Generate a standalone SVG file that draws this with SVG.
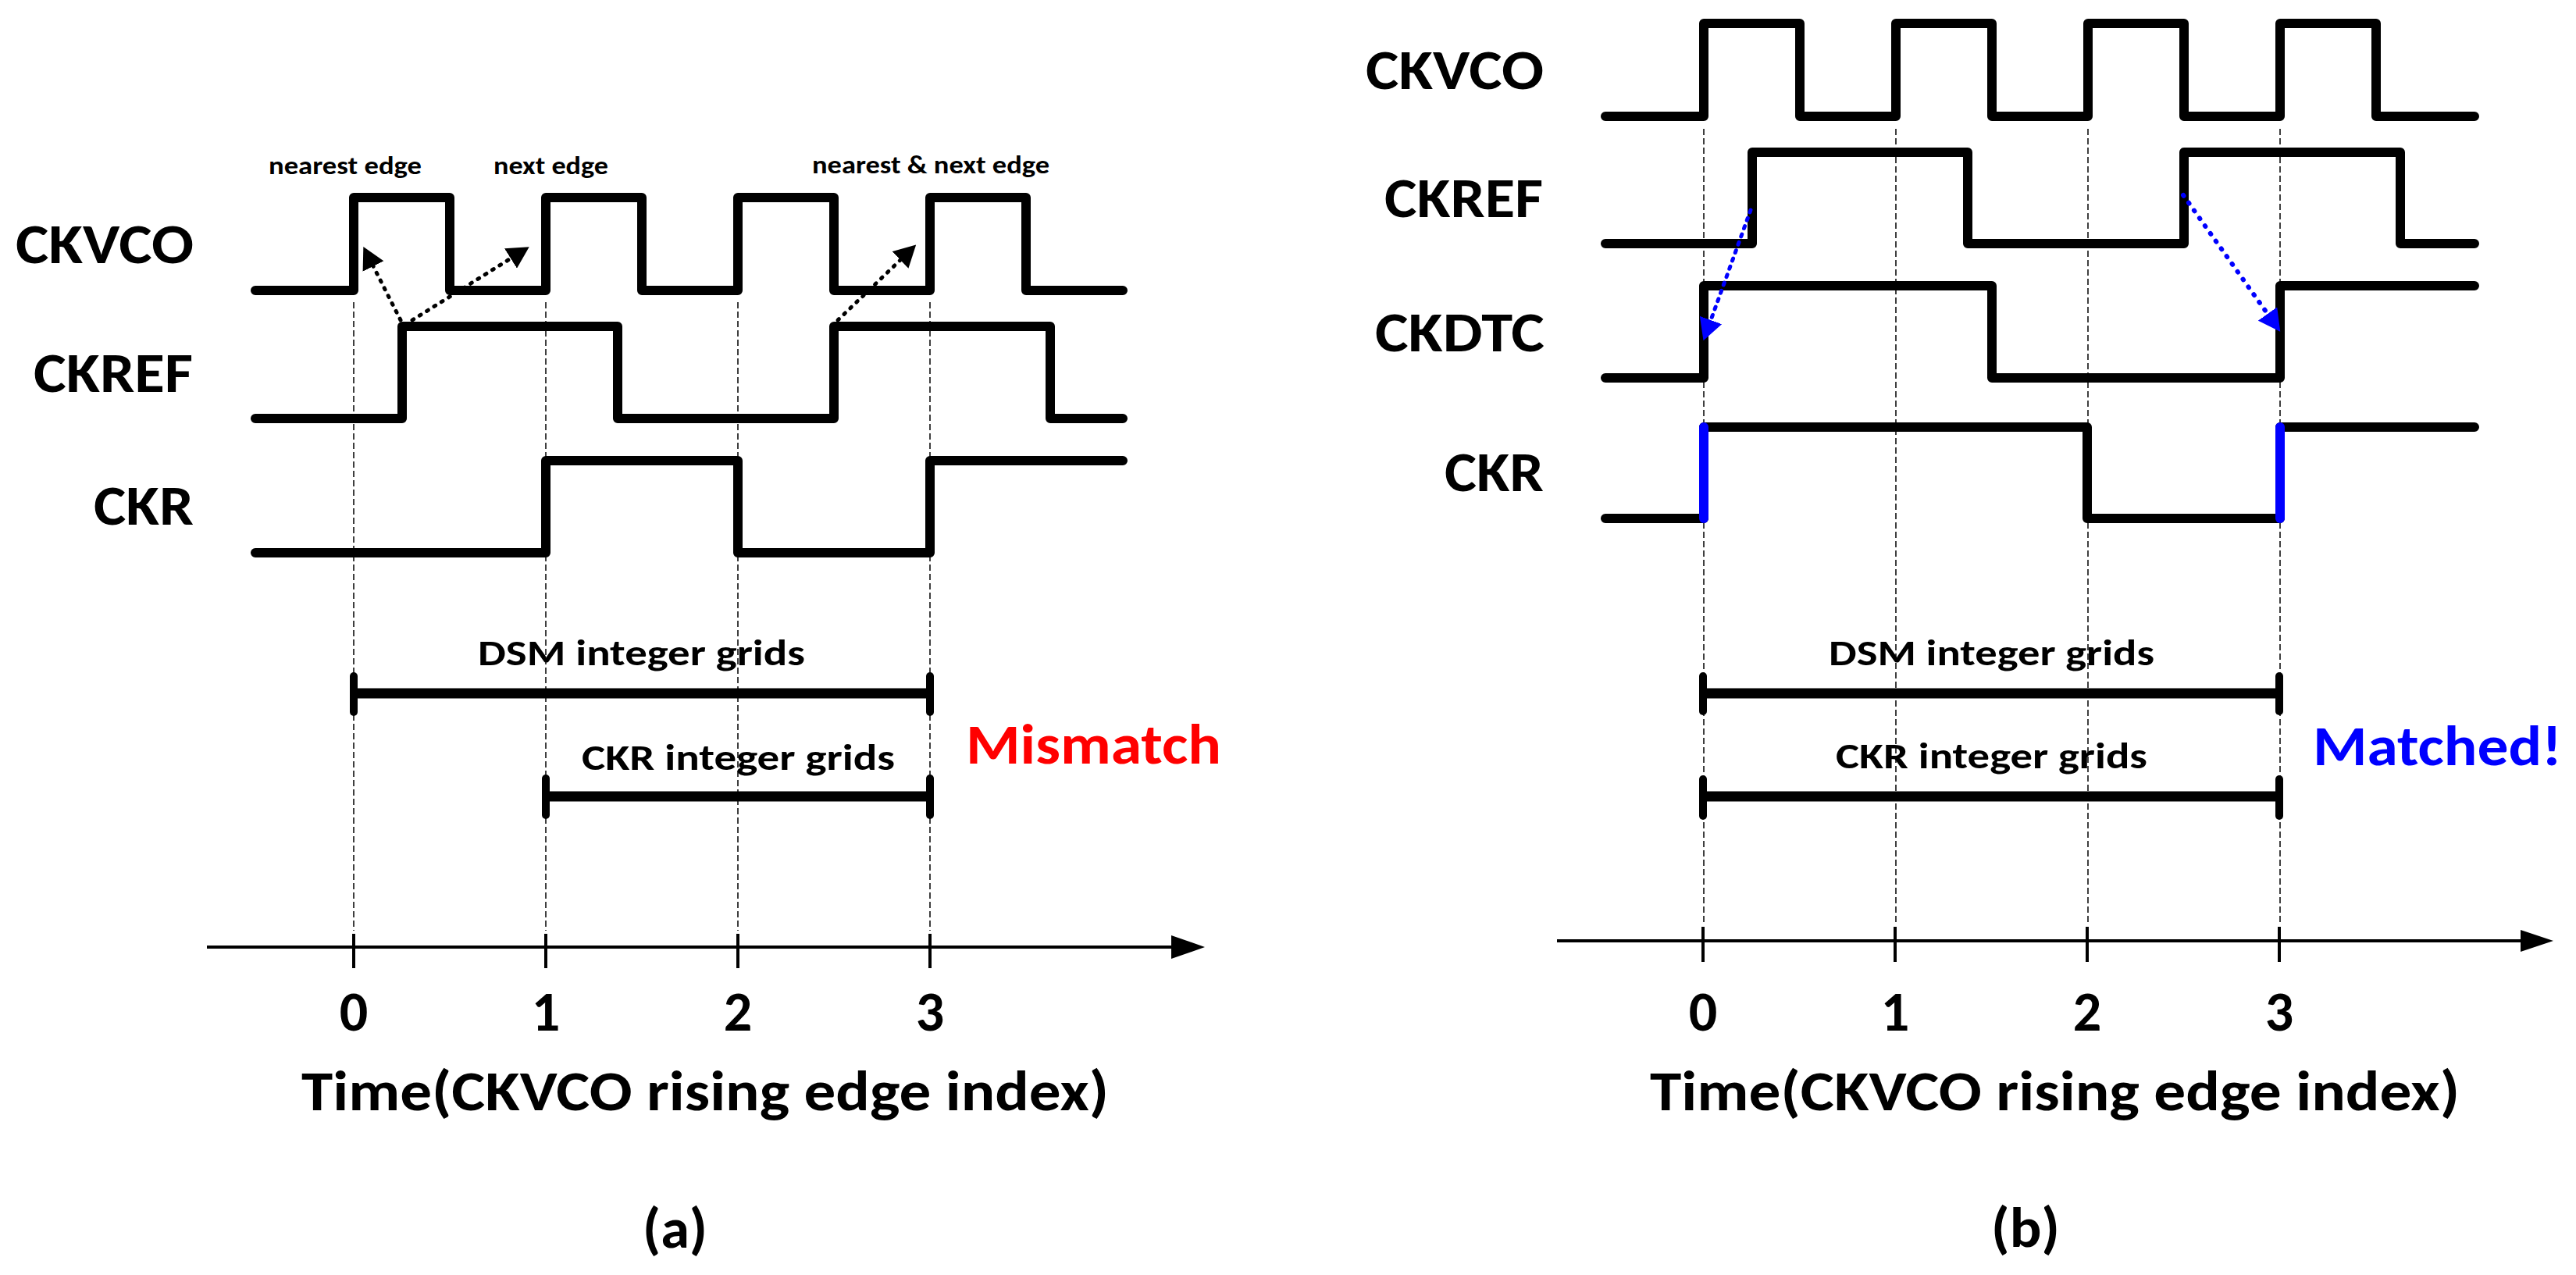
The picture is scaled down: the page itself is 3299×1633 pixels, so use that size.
<svg xmlns="http://www.w3.org/2000/svg" width="3299" height="1633" viewBox="0 0 3299 1633">
<style>
text{font-family:Calibri,Carlito,Lato,"Open Sans",sans-serif;font-weight:bold;fill:#000}
.big{font-size:72px}
.mid{font-size:46px}
.sm{font-size:33px}
.wave{fill:none;stroke:#000;stroke-width:12;stroke-linejoin:round;stroke-linecap:round}
.grid{fill:none;stroke:#000;stroke-width:1.5;stroke-dasharray:8 4}
.axis{fill:none;stroke:#000;stroke-width:4}
.bar{fill:none;stroke:#000;stroke-width:13}
.cap{fill:none;stroke:#000;stroke-width:10;stroke-linecap:round}
.dk{fill:none;stroke:#000;stroke-width:5;stroke-linecap:round;stroke-dasharray:2 9}
.db{fill:none;stroke:#0000FF;stroke-width:5;stroke-linecap:round;stroke-dasharray:3 8}
.dbr{fill:none;stroke:#0000FF;stroke-width:6;stroke-linecap:round;stroke-dasharray:1 11}
.blue{fill:none;stroke:#0000FF;stroke-width:12;stroke-linecap:round}
</style>
<defs>
<marker id="ahk" viewBox="0 0 28 30" refX="0" refY="15" markerWidth="28" markerHeight="30" markerUnits="userSpaceOnUse" orient="auto"><path d="M0,0 L28,15 L0,30 z" fill="#000"/></marker>
<marker id="ahb" viewBox="0 0 28 30" refX="0" refY="15" markerWidth="28" markerHeight="30" markerUnits="userSpaceOnUse" orient="auto"><path d="M0,0 L28,15 L0,30 z" fill="#0000FF"/></marker>
</defs>
<rect width="3299" height="1633" fill="#fff"/>

<!-- Panel (a) -->
<g id="a-grid">
<line class="grid" x1="453" y1="387" x2="453" y2="1192"/>
<line class="grid" x1="699" y1="387" x2="699" y2="1192"/>
<line class="grid" x1="945" y1="387" x2="945" y2="1192"/>
<line class="grid" x1="1191" y1="387" x2="1191" y2="1192"/>
</g>
<g id="a-ckvco">
<text class="big" x="20" y="337" textLength="228" lengthAdjust="spacingAndGlyphs">CKVCO</text>
<path class="wave" d="M327,372 H453 V253 H576 V372 H699 V253 H822 V372 H945 V253 H1068 V372 H1191 V253 H1314 V372 H1438"/>
</g>
<g id="a-ckref">
<text class="big" x="43" y="502" textLength="204" lengthAdjust="spacingAndGlyphs">CKREF</text>
<path class="wave" d="M327,536 H515 V418 H791 V536 H1068 V418 H1345 V536 H1438"/>
</g>
<g id="a-ckr">
<text class="big" x="120" y="672" textLength="128" lengthAdjust="spacingAndGlyphs">CKR</text>
<path class="wave" d="M327,708 H699 V590 H945 V708 H1191 V590 H1438"/>
</g>
<g id="a-notes">
<text class="sm" x="344" y="223" textLength="196" lengthAdjust="spacingAndGlyphs">nearest edge</text>
<text class="sm" x="632" y="223" textLength="147" lengthAdjust="spacingAndGlyphs">next edge</text>
<text class="sm" x="1040" y="222" textLength="304" lengthAdjust="spacingAndGlyphs">nearest &amp; next edge</text>
</g>
<g id="a-dsm">
<text class="mid" x="612" y="852" textLength="419" lengthAdjust="spacingAndGlyphs">DSM integer grids</text>
<line class="bar" x1="453" y1="888" x2="1191" y2="888"/>
<line class="cap" x1="453" y1="866" x2="453" y2="912"/>
<line class="cap" x1="1191" y1="866" x2="1191" y2="912"/>
</g>
<g id="a-ckrgrid">
<text class="mid" x="745" y="986" textLength="401" lengthAdjust="spacingAndGlyphs">CKR integer grids</text>
<line class="bar" x1="699" y1="1020" x2="1191" y2="1020"/>
<line class="cap" x1="699" y1="997" x2="699" y2="1044"/>
<line class="cap" x1="1191" y1="997" x2="1191" y2="1044"/>
</g>
<g id="a-result">
<text class="big" x="1237" y="978" textLength="327" lengthAdjust="spacingAndGlyphs" style="fill:#FF0000">Mismatch</text>
</g>
<g id="a-axis">
<line class="axis" x1="265" y1="1213" x2="1505" y2="1213"/>
<polygon points="1500,1198 1543,1213 1500,1228" fill="#000"/>
<line class="axis" x1="453" y1="1196" x2="453" y2="1240"/>
<line class="axis" x1="699" y1="1196" x2="699" y2="1240"/>
<line class="axis" x1="945" y1="1196" x2="945" y2="1240"/>
<line class="axis" x1="1191" y1="1196" x2="1191" y2="1240"/>
<text class="big" x="453" y="1320" text-anchor="middle">0</text>
<text class="big" x="699" y="1320" text-anchor="middle">1</text>
<text class="big" x="945" y="1320" text-anchor="middle">2</text>
<text class="big" x="1191" y="1320" text-anchor="middle">3</text>
<text class="big" x="386" y="1422" textLength="1034" lengthAdjust="spacingAndGlyphs">Time(CKVCO rising edge index)</text>
<text class="big" x="823" y="1598" textLength="83" lengthAdjust="spacingAndGlyphs">(a)</text>
</g>

<!-- Panel (b) -->
<g id="b-grid">
<line class="grid" x1="2182" y1="165" x2="2182" y2="1183"/>
<line class="grid" x1="2428" y1="165" x2="2428" y2="1183"/>
<line class="grid" x1="2674" y1="165" x2="2674" y2="1183"/>
<line class="grid" x1="2920" y1="165" x2="2920" y2="1183"/>
</g>
<g id="b-ckvco">
<text class="big" x="1749" y="114" textLength="228" lengthAdjust="spacingAndGlyphs">CKVCO</text>
<path class="wave" d="M2056,149 H2182 V30 H2305 V149 H2428 V30 H2551 V149 H2674 V30 H2797 V149 H2920 V30 H3043 V149 H3169"/>
</g>
<g id="b-ckref">
<text class="big" x="1773" y="278" textLength="203" lengthAdjust="spacingAndGlyphs">CKREF</text>
<path class="wave" d="M2056,312 H2244 V195 H2520 V312 H2797 V195 H3074 V312 H3169"/>
</g>
<g id="b-ckdtc">
<text class="big" x="1761" y="450" textLength="217" lengthAdjust="spacingAndGlyphs">CKDTC</text>
<path class="wave" d="M2056,484 H2182 V366 H2551 V484 H2920 V366 H3169"/>
</g>
<g id="b-ckr">
<text class="big" x="1850" y="629" textLength="127" lengthAdjust="spacingAndGlyphs">CKR</text>
<path class="wave" d="M2056,664 H2182 V547 H2673 V664 H2920 V547 H3169"/>
<line class="blue" x1="2182" y1="547" x2="2182" y2="664"/>
<line class="blue" x1="2920" y1="547" x2="2920" y2="664"/>
</g>
<g id="b-dsm">
<text class="mid" x="2342" y="852" textLength="417" lengthAdjust="spacingAndGlyphs">DSM integer grids</text>
<line class="bar" x1="2181" y1="888" x2="2919" y2="888"/>
<line class="cap" x1="2181" y1="866" x2="2181" y2="911"/>
<line class="cap" x1="2919" y1="866" x2="2919" y2="911"/>
</g>
<g id="b-ckrgrid">
<text class="mid" x="2351" y="984" textLength="399" lengthAdjust="spacingAndGlyphs">CKR integer grids</text>
<line class="bar" x1="2181" y1="1020" x2="2919" y2="1020"/>
<line class="cap" x1="2181" y1="998" x2="2181" y2="1045"/>
<line class="cap" x1="2919" y1="998" x2="2919" y2="1045"/>
</g>
<g id="b-result">
<text class="big" x="2962" y="980" textLength="319" lengthAdjust="spacingAndGlyphs" style="fill:#0000FF">Matched!</text>
</g>
<g id="b-axis">
<line class="axis" x1="1994" y1="1205" x2="3232" y2="1205"/>
<polygon points="3228,1191 3270,1205 3228,1219" fill="#000"/>
<line class="axis" x1="2181" y1="1187" x2="2181" y2="1232"/>
<line class="axis" x1="2427" y1="1187" x2="2427" y2="1232"/>
<line class="axis" x1="2673" y1="1187" x2="2673" y2="1232"/>
<line class="axis" x1="2919" y1="1187" x2="2919" y2="1232"/>
<text class="big" x="2181" y="1320" text-anchor="middle">0</text>
<text class="big" x="2427" y="1320" text-anchor="middle">1</text>
<text class="big" x="2673" y="1320" text-anchor="middle">2</text>
<text class="big" x="2919" y="1320" text-anchor="middle">3</text>
<text class="big" x="2113" y="1422" textLength="1037" lengthAdjust="spacingAndGlyphs">Time(CKVCO rising edge index)</text>
<text class="big" x="2550" y="1597" textLength="88" lengthAdjust="spacingAndGlyphs">(b)</text>
</g>

<!-- Connectors -->
<g id="connectors">
<path class="dk" d="M513,410 L478,341" marker-end="url(#ahk)"/>
<path class="dk" d="M528,410 L654,331" marker-end="url(#ahk)"/>
<path class="dk" d="M1073,410 L1153,333" marker-end="url(#ahk)"/>
<path class="db" d="M2242,269 L2191,410" marker-end="url(#ahb)"/>
<path class="dbr" d="M2796,250 L2904,402" marker-end="url(#ahb)"/>
</g>
</svg>
